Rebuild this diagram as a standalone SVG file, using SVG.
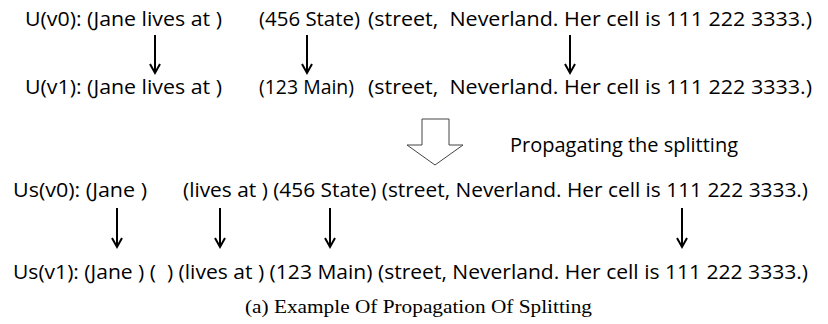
<svg xmlns="http://www.w3.org/2000/svg" width="828" height="324" viewBox="0 0 828 324">
<style>
.t{font-family:"Open Sans","Liberation Sans",sans-serif;font-size:20px;fill:#000;white-space:pre}
.cap{font-family:"Liberation Serif","Times New Roman",serif;font-size:19px;fill:#000}
.arr{stroke:#000;stroke-width:2;fill:none}
</style>
<rect width="828" height="324" fill="#fff"/>
<g id="row-u-v0">
<text class="t" x="25" y="26" textLength="197" lengthAdjust="spacingAndGlyphs">U(v0): (Jane lives at )</text>
<text class="t" x="259" y="26" textLength="101" lengthAdjust="spacingAndGlyphs">(456 State)</text>
<text class="t" x="368" y="26" textLength="444" lengthAdjust="spacingAndGlyphs">(street,  Neverland. Her cell is 111 222 3333.)</text>
</g>
<g id="row-u-v1">
<text class="t" x="25" y="94" textLength="197" lengthAdjust="spacingAndGlyphs">U(v1): (Jane lives at )</text>
<text class="t" x="259" y="94" textLength="95" lengthAdjust="spacingAndGlyphs">(123 Main)</text>
<text class="t" x="368" y="94" textLength="444" lengthAdjust="spacingAndGlyphs">(street,  Neverland. Her cell is 111 222 3333.)</text>
</g>
<g id="propagate">
<path d="M422,119 H449 V145 H463 L435,165 L407,145 H422 Z" fill="#fff" stroke="#444" stroke-width="1"/>
<text class="t" x="510" y="152" textLength="228" lengthAdjust="spacingAndGlyphs">Propagating the splitting</text>
</g>
<g id="row-us-v0">
<text class="t" x="13" y="197" textLength="134" lengthAdjust="spacingAndGlyphs">Us(v0): (Jane )</text>
<text class="t" x="183" y="197" textLength="625" lengthAdjust="spacingAndGlyphs">(lives at ) (456 State) (street, Neverland. Her cell is 111 222 3333.)</text>
</g>
<g id="row-us-v1">
<text class="t" x="13" y="279" textLength="795" lengthAdjust="spacingAndGlyphs">Us(v1): (Jane ) (  ) (lives at ) (123 Main) (street, Neverland. Her cell is 111 222 3333.)</text>
</g>
<g id="connectors">
<path class="arr" d="M155,35 V73 M150,64 L155,73 L160,64"/>
<path class="arr" d="M307,35 V73 M302,64 L307,73 L312,64"/>
<path class="arr" d="M570,35 V73 M565,64 L570,73 L575,64"/>
<path class="arr" d="M117,208 V247 M112,238 L117,247 L122,238"/>
<path class="arr" d="M220,208 V247 M215,238 L220,247 L225,238"/>
<path class="arr" d="M330,208 V247 M325,238 L330,247 L335,238"/>
<path class="arr" d="M682,208 V247 M677,238 L682,247 L687,238"/>
</g>
<text class="cap" x="245" y="313" textLength="347" lengthAdjust="spacingAndGlyphs">(a) Example Of Propagation Of Splitting</text>
</svg>
